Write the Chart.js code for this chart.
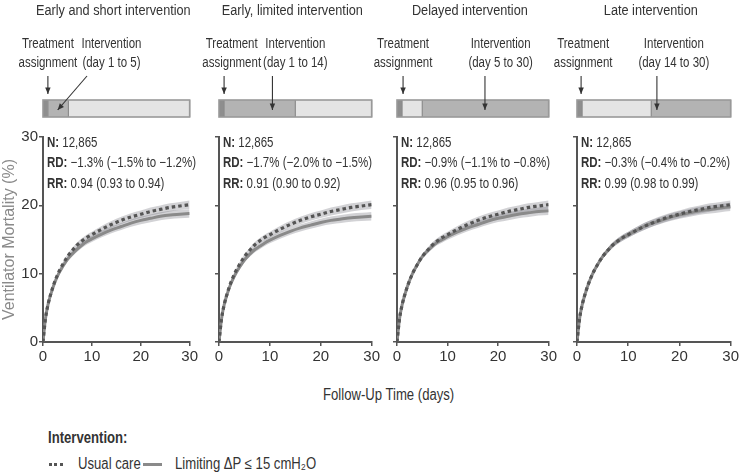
<!DOCTYPE html>
<html><head><meta charset="utf-8">
<script src="https://cdn.jsdelivr.net/npm/chart.js@4.4.1/dist/chart.umd.min.js"></script>
<style>
html,body{margin:0;padding:0;background:#fff;width:741px;height:476px;overflow:hidden;position:relative;font-family:'Liberation Sans',Arial,sans-serif;color:#333}
canvas{position:absolute;top:0}
.t{position:absolute;white-space:nowrap;transform:scaleX(0.82);transform-origin:left top;color:#333}
#xt{left:323px;top:386px;font-size:16px}
#lgT{left:48px;top:429px;font-size:16px;font-weight:bold}
#lg1{left:78px;top:455px;font-size:16px}
#lg2{left:175px;top:455px;font-size:16px}
.sym{position:absolute;height:0}
#s1{left:49px;top:463px;width:14px;border-top:3px dotted #555}
#s2{left:143px;top:463px;width:19px;border-top:3px solid #8a8a8a}
</style></head>
<body>
<canvas id="c0"></canvas><canvas id="c1"></canvas><canvas id="c2"></canvas><canvas id="c3"></canvas>
<div id="xt" class="t">Follow-Up Time (days)</div>
<div id="lgT" class="t">Intervention:</div>
<div id="s1" class="sym"></div><div id="lg1" class="t">Usual care</div>
<div id="s2" class="sym"></div><div id="lg2" class="t">Limiting ΔP ≤ 15 cmH₂O</div>
<script>
// ---------- data ----------
const panelTitles = ['Early and short intervention','Early, limited intervention','Delayed intervention','Late intervention'];
const interventionLabel1 = ['Intervention','Intervention','Intervention','Intervention'];
const interventionLabel2 = ['(day 1 to 5)','(day 1 to 14)','(day 5 to 30)','(day 14 to 30)'];
const assignmentEnd = 1;
const interventionStart = [1, 1, 5, 14.5];
const interventionEnd = [5.2, 15, 30, 30];
const statN = ['12,865','12,865','12,865','12,865'];
const statRD = ['−1.3% (−1.5% to −1.2%)','−1.7% (−2.0% to −1.5%)','−0.9% (−1.1% to −0.8%)','−0.3% (−0.4% to −0.2%)'];
const statRR = ['0.94 (0.93 to 0.94)','0.91 (0.90 to 0.92)','0.96 (0.95 to 0.96)','0.99 (0.98 to 0.99)'];
const days = [0,0.5,1,2,3,4,5,6,7,8,9,10,12,14,16,18,20,22,24,26,28,30];
const usualCare = [0,3.4,5.4,8.0,9.9,11.3,12.5,13.4,14.2,14.8,15.3,15.7,16.5,17.2,17.8,18.3,18.7,19.1,19.4,19.7,19.9,20.1];
const limiting1 = [0,3.4,5.4,7.9,9.7,11.0,12.1,12.9,13.6,14.2,14.7,15.1,15.8,16.4,16.9,17.4,17.8,18.1,18.4,18.6,18.7,18.8];
const limiting2 = [0,3.4,5.4,7.9,9.6,10.9,12.0,12.8,13.5,14.0,14.5,14.9,15.6,16.2,16.7,17.1,17.5,17.8,18.0,18.2,18.3,18.4];
const limiting3 = [0,3.4,5.4,8.0,9.9,11.3,12.5,13.3,14.0,14.6,15.0,15.4,16.1,16.7,17.2,17.7,18.1,18.4,18.7,18.9,19.1,19.2];
const limiting4 = [0,3.4,5.4,8.0,9.9,11.3,12.5,13.4,14.2,14.8,15.3,15.7,16.5,17.2,17.7,18.2,18.6,18.9,19.2,19.4,19.6,19.8];
const ciHalfWidth = [0,0.15,0.2,0.25,0.3,0.32,0.35,0.37,0.4,0.42,0.44,0.45,0.48,0.5,0.52,0.54,0.55,0.57,0.58,0.6,0.6,0.62];
const limitingSeries = [limiting1, limiting2, limiting3, limiting4];
const yTicks = [0,10,20,30];
const xTicks = [0,10,20,30];
// label anchors (in days)
const treatLabelDay = [1, 2.5, 1.2, 1.2];
const ivLabelDay = [14, 15, 20.5, 18.9];
const treatArrowDay = [1, 1, 1.2, 0.8];
const ivArrowFromDay = [9, 10.5, 17.4, 15.6];
const ivArrowToDay = [3, 10.5, 17.4, 15.6];

// ---------- layout ----------
const FONT = "'Liberation Sans',Arial,sans-serif";
const SQ = 0.82; // condensed text
const layoutCfg = [
  {left:0, width:200, padL:0, yW:43, padR:9},
  {left:193, width:189, padL:18, yW:8, padR:9},
  {left:372, width:187, padL:17, yW:8, padR:9},
  {left:553, width:188, padL:16, yW:8, padR:8}
];

function pts(arr, add, sign){ return days.map((d,i)=>({x:d, y: arr[i] + (add ? sign*add[i] : 0)})); }

function ctext(ctx, txt, x, y, align){
  ctx.save(); ctx.translate(x, y); ctx.scale(SQ, 1);
  ctx.textAlign = align; ctx.fillText(txt, 0, 0);
  const w = ctx.measureText(txt).width * SQ;
  ctx.restore(); return w;
}

function arrow(ctx, x1, y1, x2, y2){
  ctx.beginPath(); ctx.moveTo(x1,y1); ctx.lineTo(x2,y2); ctx.stroke();
  const a = Math.atan2(y2-y1, x2-x1), L=7, w=0.4;
  ctx.beginPath();
  ctx.moveTo(x2,y2);
  ctx.lineTo(x2 - L*Math.cos(a-w), y2 - L*Math.sin(a-w));
  ctx.lineTo(x2 - L*Math.cos(a+w), y2 - L*Math.sin(a+w));
  ctx.closePath(); ctx.fill();
}

const decor = {
  id:'decor',
  afterDraw(chart, args, opts){
    const i = opts.idx, ctx = chart.ctx, xs = chart.scales.x, ca = chart.chartArea;
    const px = v => xs.getPixelForValue(v);
    ctx.save();
    ctx.fillStyle = '#333'; ctx.textBaseline='middle';
    ctx.font = '15.5px '+FONT;
    ctext(ctx, panelTitles[i], (ca.left+ca.right)/2 - 3, 11, 'center');
    ctx.font = '14px '+FONT;
    ctext(ctx, 'Treatment', px(treatLabelDay[i]), 44, 'center');
    ctext(ctx, 'assignment', px(treatLabelDay[i]), 63, 'center');
    ctext(ctx, interventionLabel1[i], px(ivLabelDay[i]), 44, 'center');
    ctext(ctx, interventionLabel2[i], px(ivLabelDay[i]), 63, 'center');
    // timeline bar
    const bt = 100, bh = 17;
    const segs = [[0, assignmentEnd, '#8e8e8e']];
    if (interventionStart[i] > assignmentEnd) segs.push([assignmentEnd, interventionStart[i], '#e4e4e4']);
    segs.push([interventionStart[i], interventionEnd[i], '#b3b3b3']);
    if (interventionEnd[i] < 30) segs.push([interventionEnd[i], 30, '#e4e4e4']);
    segs.forEach(s=>{ ctx.fillStyle=s[2]; ctx.fillRect(px(s[0]), bt, px(s[1])-px(s[0]), bh); });
    ctx.strokeStyle='#8c8c8c'; ctx.lineWidth=1.2;
    segs.forEach(s=>{ ctx.beginPath(); ctx.moveTo(px(s[1]), bt); ctx.lineTo(px(s[1]), bt+bh); ctx.stroke(); });
    ctx.lineWidth=1.6; ctx.strokeStyle='#999';
    ctx.strokeRect(px(0), bt, px(30)-px(0), bh);
    // arrows
    ctx.strokeStyle='#333'; ctx.fillStyle='#333'; ctx.lineWidth=1.1;
    arrow(ctx, px(treatArrowDay[i]), 76, px(treatArrowDay[i]), 94);
    arrow(ctx, px(ivArrowFromDay[i]), 76, px(ivArrowToDay[i]), 110);
    // stats
    ctx.fillStyle='#333';
    const sx = ca.left + 4;
    const lines = [['N:', statN[i]], ['RD:', statRD[i]], ['RR:', statRR[i]]];
    lines.forEach((l,k)=>{
      const yy = ca.top + 6 + k*20.5;
      ctx.font = 'bold 14px '+FONT; const w = ctext(ctx, l[0], sx, yy, 'left');
      ctx.font = '14px '+FONT; ctext(ctx, ' '+l[1], sx+w, yy, 'left');
    });
    ctx.restore();
  }
};

const bandColor = 'rgba(115,115,125,0.32)';
for (let i=0;i<4;i++){
  const L = layoutCfg[i];
  const cv = document.getElementById('c'+i);
  cv.style.left = L.left+'px'; cv.style.width = L.width+'px'; cv.style.height='372px';
  cv.width = L.width; cv.height = 372;
  const lim = limitingSeries[i];
  new Chart(cv, {
    type:'line',
    data:{ datasets:[
      {data:pts(lim, ciHalfWidth, 1), borderWidth:0, pointRadius:0, fill:false, order:5},
      {data:pts(lim, ciHalfWidth, -1), borderWidth:0, pointRadius:0, fill:'-1', backgroundColor:bandColor, order:5},
      {data:pts(usualCare, ciHalfWidth, 1), borderWidth:0, pointRadius:0, fill:false, order:4},
      {data:pts(usualCare, ciHalfWidth, -1), borderWidth:0, pointRadius:0, fill:'-1', backgroundColor:bandColor, order:4},
      {label:'Limiting ΔP ≤ 15 cmH₂O', data:pts(lim), borderColor:'#8a8a8a', borderWidth:3, pointRadius:0, fill:false, order:2},
      {label:'Usual care', data:pts(usualCare), borderColor:'#555', borderWidth:3.2, borderDash:[3.5,3], pointRadius:0, fill:false, order:1}
    ]},
    options:{
      responsive:false, animation:false, maintainAspectRatio:false,
      elements:{line:{cubicInterpolationMode:'monotone'}},
      layout:{padding:{top:137, left:L.padL, right:L.padR, bottom:0}},
      plugins:{legend:{display:false}, tooltip:{enabled:false}, decor:{idx:i}},
      scales:{
        x:{type:'linear', min:0, max:30,
           afterBuildTicks: s => { s.ticks = xTicks.map(v=>({value:v})); },
           afterFit: s => { s.height = 30; },
           grid:{drawOnChartArea:false, drawTicks:true, tickLength:4, color:'#555', lineWidth:1.5},
           border:{display:true, color:'#555', width:2},
           ticks:{color:'#333', font:{family:FONT, size:15}, padding:2, maxRotation:0}},
        y:{type:'linear', min:0, max:30,
           afterBuildTicks: s => { s.ticks = yTicks.map(v=>({value:v})); },
           afterFit: s => { s.width = L.yW; },
           grid:{drawOnChartArea:false, drawTicks:true, tickLength:4, color:'#555', lineWidth:1.5},
           border:{display:true, color:'#555', width:2},
           title:{display: i===0, text:'Ventilator Mortality (%)', color:'#8a8a8a', font:{family:FONT, size:16}, padding:{top:0,bottom:0}},
           ticks:{display: i===0, color:'#333', font:{family:FONT, size:15}, padding:1}}
      }
    },
    plugins:[decor]
  });
}
</script>
</body></html>
